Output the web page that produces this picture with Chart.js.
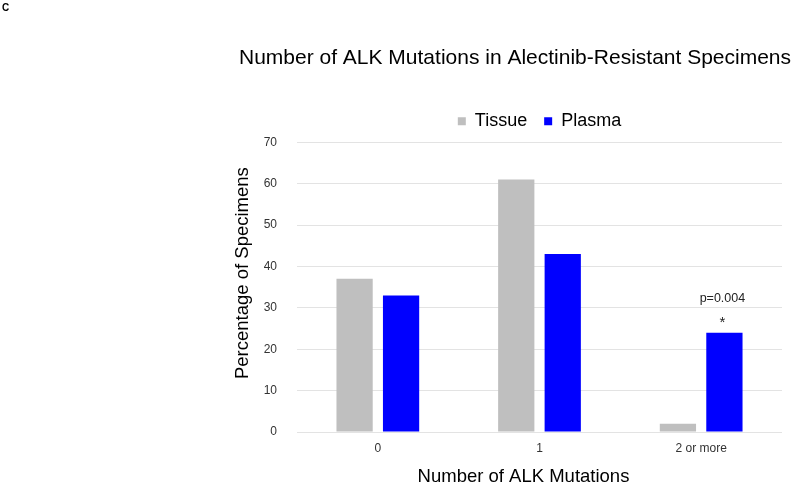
<!DOCTYPE html>
<html>
<head>
<meta charset="utf-8">
<script src="https://cdn.jsdelivr.net/npm/chart.js@4"></script>
<style>
  html, body { margin: 0; padding: 0; background: #fff; }
  #wrap { width: 800px; height: 486px; }
</style>
</head>
<body>
<div id="wrap"><canvas id="chart" width="800" height="486"></canvas></div>
<script>
const categories = ["0", "1", "2 or more"];
const tissue = [37, 61, 2];
const plasma = [33, 43, 24];
const yTicks = [0, 10, 20, 30, 40, 50, 60, 70];

const FONT = "'Liberation Sans', Arial, sans-serif";

// nudge a scale's title only, the rest of the scale keeps its box
function shiftTitle(scale, side, delta) {
  if (scale._titleShifted) return;
  const orig = scale.drawTitle;
  scale.drawTitle = function () {
    const keep = this[side];
    this[side] += delta;
    orig.call(this);
    this[side] = keep;
  };
  scale._titleShifted = true;
}

// extra room under the legend, and move title/legend sideways like the original
const layoutTweaks = {
  id: "layoutTweaks",
  beforeInit(chart) {
    const fit = chart.legend.fit;
    chart.legend.fit = function () {
      fit.bind(chart.legend)();
      this.height += 2;
    };
  },
  afterLayout(chart) {
    const t = chart.titleBlock;
    t.left += 124;
    t.right += 124;
    const area = chart.chartArea;
    const lg = chart.legend;
    const dx = (area.left + area.right) / 2 - (lg.left + lg.right) / 2;
    lg.left += dx;
    lg.right += dx;
    // axis titles sit a bit off the plot centre in the original
    shiftTitle(chart.scales.x, "right", -32);
    shiftTitle(chart.scales.y, "bottom", -28);
  },
};

// panel letter and the significance note over the plasma bar
const notes = {
  id: "notes",
  afterDraw(chart) {
    const ctx = chart.ctx;
    ctx.save();
    ctx.fillStyle = "#000";
    ctx.textBaseline = "top";
    ctx.textAlign = "left";
    ctx.font = "bold 10px " + FONT;
    ctx.fillText("C", 2, 3);

    const bar = chart.getDatasetMeta(1).data[2];
    ctx.textAlign = "center";
    ctx.textBaseline = "middle";
    ctx.fillStyle = "#222";
    ctx.font = "12.5px " + FONT;
    ctx.fillText("p=0.004", bar.x - 2, bar.y - 34);
    ctx.font = "15px " + FONT;
    ctx.fillText("*", bar.x - 2, bar.y - 10);
    ctx.restore();
  },
};

new Chart(document.getElementById("chart"), {
  type: "bar",
  data: {
    labels: categories,
    datasets: [
      {
        label: "Tissue",
        data: tissue,
        backgroundColor: "#bfbfbf",
        borderWidth: 0,
      },
      {
        label: "Plasma",
        data: plasma,
        backgroundColor: "#0000ff",
        borderWidth: 0,
      },
    ],
  },
  options: {
    responsive: false,
    animation: false,
    layout: { padding: { left: 0, right: 18, top: 0, bottom: 0 } },
    datasets: {
      bar: { categoryPercentage: 0.575, barPercentage: 0.78 },
    },
    plugins: {
      title: {
        display: true,
        text: "Number of ALK Mutations in Alectinib-Resistant Specimens",
        color: "#000",
        font: { family: FONT, size: 21, weight: "normal" },
        padding: { top: 46, bottom: 24 },
      },
      legend: {
        position: "top",
        labels: {
          color: "#000",
          font: { family: FONT, size: 18 },
          boxWidth: 8,
          boxHeight: 8,
          padding: 17,
        },
      },
      tooltip: { enabled: false },
    },
    scales: {
      x: {
        grid: { display: false, drawTicks: false },
        border: { display: false },
        ticks: {
          color: "#333",
          font: { family: FONT, size: 12 },
          padding: 9,
        },
        title: {
          display: true,
          text: "Number of ALK Mutations",
          color: "#000",
          font: { family: FONT, size: 18.5, lineHeight: 1 },
          padding: { top: 0, bottom: 0 },
        },
        afterFit(scale) {
          scale.height = 54;
        },
      },
      y: {
        min: 0,
        max: 70,
        afterBuildTicks(scale) {
          scale.ticks = yTicks.map((v) => ({ value: v }));
        },
        grid: { color: "#e3e3e3", drawTicks: false, lineWidth: 1 },
        border: { display: false },
        ticks: {
          color: "#333",
          font: { family: FONT, size: 12 },
          padding: 20,
        },
        title: {
          display: true,
          text: "Percentage of Specimens",
          color: "#000",
          font: { family: FONT, size: 18.5, lineHeight: 1 },
          padding: { top: 234, bottom: 0 },
        },
        afterFit(scale) {
          scale.width = 297;
        },
      },
    },
  },
  plugins: [layoutTweaks, notes],
});
</script>
</body>
</html>
